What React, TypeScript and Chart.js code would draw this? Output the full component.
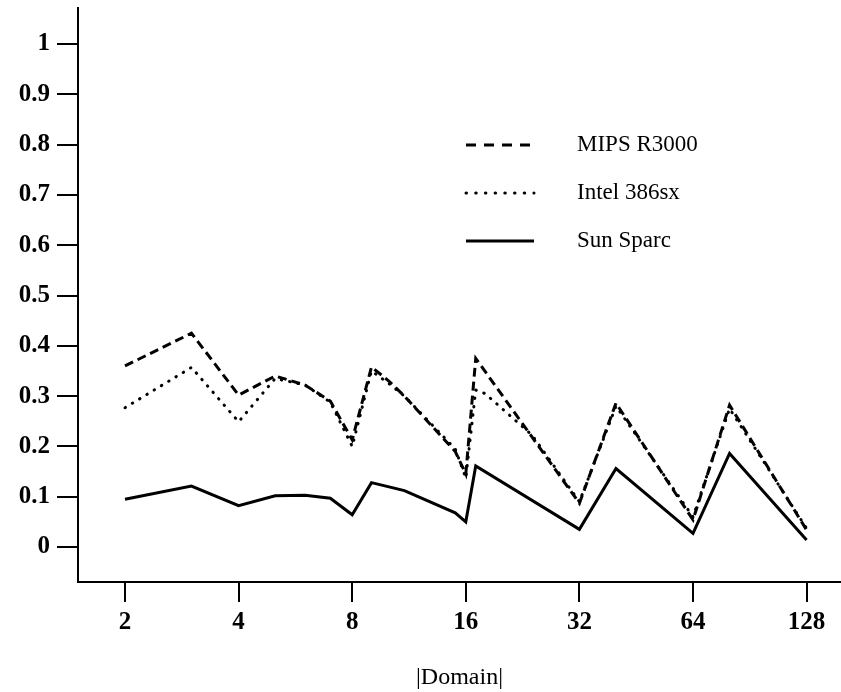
import { useEffect, useRef } from 'react';
import { Chart, registerables } from 'chart.js';

Chart.register(...registerables);

// |Domain| values where the curves are sampled
const domain = [2, 3, 4, 5, 6, 7, 8, 9, 10, 11, 15, 16, 17, 18, 24, 32, 40, 64, 80, 128];
const mipsR3000 = [0.36, 0.425, 0.302, 0.34, 0.322, 0.29, 0.213, 0.358, 0.33, 0.3, 0.19, 0.145, 0.375, null, null, 0.087, 0.286, 0.054, 0.282, 0.034];
const intel386sx = [0.277, 0.357, 0.249, 0.335, 0.322, 0.288, 0.2, 0.35, 0.325, 0.3, 0.195, 0.137, 0.312, 0.305, 0.222, 0.09, 0.28, 0.06, 0.275, 0.037];
const sunSparc = [0.095, 0.121, 0.082, 0.102, 0.103, 0.097, 0.064, 0.128, null, 0.112, 0.068, 0.05, 0.161, null, null, 0.035, 0.156, 0.027, 0.186, 0.014];

const seriesLabels = ['MIPS R3000', 'Intel 386sx', 'Sun Sparc'];
const xTickValues = [2, 4, 8, 16, 32, 64, 128];
const yTickValues = [0, 0.1, 0.2, 0.3, 0.4, 0.5, 0.6, 0.7, 0.8, 0.9, 1];
const xTitle = '|Domain|';

const SERIF = '"Liberation Serif", "DejaVu Serif", serif';

const toPoints = (ys: (number | null)[]) => domain.map((x, i) => ({ x, y: ys[i] }));

const legendPlugin = {
  id: 'insideLegend',
  afterDraw(chart: any) {
    const ctx = chart.ctx as CanvasRenderingContext2D;
    const rows = [145, 193, 241];
    const dashes = [[10, 8], [0.5, 9.2], []];
    const caps: CanvasLineCap[] = ['butt', 'round', 'butt'];
    ctx.save();
    chart.data.datasets.forEach((ds: any, i: number) => {
      const y = rows[i];
      ctx.beginPath();
      ctx.setLineDash(dashes[i]);
      ctx.lineCap = caps[i];
      ctx.lineWidth = 3;
      ctx.strokeStyle = '#000';
      ctx.moveTo(466, y);
      ctx.lineTo(534, y);
      ctx.stroke();
      ctx.setLineDash([]);
      ctx.fillStyle = '#000';
      ctx.font = `23px ${SERIF}`;
      ctx.textBaseline = 'middle';
      ctx.textAlign = 'left';
      ctx.fillText(ds.label, 577, y);
    });
    ctx.restore();
  },
};

export default function App() {
  const ref = useRef<HTMLCanvasElement>(null);

  useEffect(() => {
    document.body.style.margin = '0';
    const canvas = ref.current;
    if (!canvas) return;
    const chart = new Chart(canvas, {
      type: 'line',
      data: {
        datasets: [
          {
            label: seriesLabels[0],
            data: toPoints(mipsR3000),
            borderColor: '#000',
            borderWidth: 3,
            borderDash: [9, 5],
            pointRadius: 0,
            spanGaps: true,
            tension: 0,
          },
          {
            label: seriesLabels[1],
            data: toPoints(intel386sx),
            borderColor: '#000',
            borderWidth: 3,
            borderDash: [0.5, 8],
            borderCapStyle: 'round',
            pointRadius: 0,
            spanGaps: true,
            tension: 0,
          },
          {
            label: seriesLabels[2],
            data: toPoints(sunSparc),
            borderColor: '#000',
            borderWidth: 3,
            pointRadius: 0,
            spanGaps: true,
            tension: 0,
          },
        ] as any,
      },
      options: {
        animation: false,
        responsive: false,
        devicePixelRatio: 1,
        layout: { padding: { left: 0, right: 0, top: 8, bottom: 0 } },
        plugins: {
          legend: { display: false },
          tooltip: { enabled: false },
        },
        scales: {
          x: {
            type: 'logarithmic',
            min: 1.5013,
            max: 157.9,
            afterBuildTicks: (axis: any) => {
              axis.ticks = xTickValues.map((v) => ({ value: v }));
            },
            afterFit: (axis: any) => {
              axis.height = 110;
              axis.paddingLeft = 0;
              axis.paddingRight = 0;
            },
            grid: {
              drawOnChartArea: false,
              drawTicks: true,
              tickLength: 20,
              color: '#000',
              lineWidth: 2,
            },
            border: { display: true, color: '#000', width: 2 },
            ticks: {
              color: '#000',
              padding: 6,
              autoSkip: false,
              maxRotation: 0,
              font: { family: SERIF, size: 25, weight: 'bold' },
              callback: (v: any) => String(v),
            },
            title: {
              display: true,
              text: xTitle,
              color: '#000',
              font: { family: SERIF, size: 24 },
              padding: { top: 0, bottom: 0 },
            },
          },
          y: {
            type: 'linear',
            min: -0.0696,
            max: 1.0716,
            afterBuildTicks: (axis: any) => {
              axis.ticks = yTickValues.map((v) => ({ value: v }));
            },
            afterFit: (axis: any) => {
              axis.width = 78;
              axis.paddingTop = 0;
              axis.paddingBottom = 0;
            },
            grid: {
              drawOnChartArea: false,
              drawTicks: true,
              tickLength: 21,
              color: '#000',
              lineWidth: 2,
            },
            border: { display: true, color: '#000', width: 2 },
            ticks: {
              color: '#000',
              padding: 7,
              font: { family: SERIF, size: 25, weight: 'bold' },
              callback: (v: any) => String(Number(Number(v).toFixed(1))),
            },
          },
        },
      } as any,
      plugins: [legendPlugin],
    });
    return () => chart.destroy();
  }, []);

  return <canvas ref={ref} width={841} height={692} style={{ display: 'block' }} />;
}
